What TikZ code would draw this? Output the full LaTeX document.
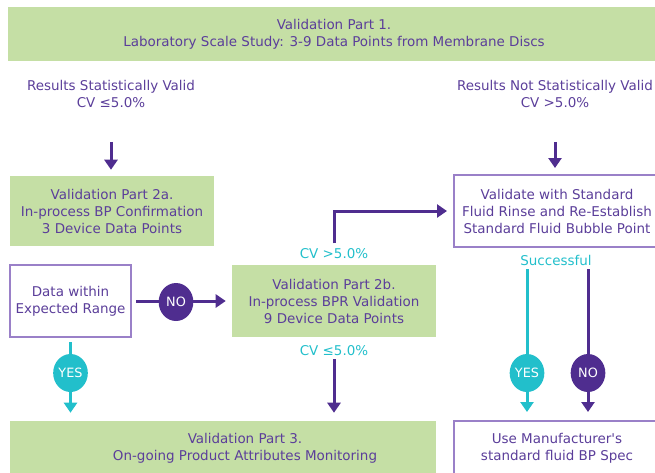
\documentclass[tikz,border=0pt]{standalone}
\usepackage{fontspec}
\setmainfont{DejaVu Sans}
\usetikzlibrary{arrows.meta,shapes.geometric,backgrounds}

\definecolor{valgreen}{HTML}{C5DFA5}
\definecolor{valpurple}{HTML}{4F2D8F}
\definecolor{txtpurple}{HTML}{5B3E9A}
\definecolor{edgepurple}{HTML}{9A80C8}
\definecolor{valcyan}{HTML}{22BFCB}

\begin{document}
\begin{tikzpicture}[x=0.75pt, y=-0.75pt,
  every node/.style={font=\fontsize{10.1}{12.75}\selectfont, text=txtpurple, align=center, inner sep=0pt},
  greenbox/.style={fill=valgreen},
  whitebox/.style={fill=white, draw=edgepurple, line width=1.5pt},
  circ/.style={ellipse, minimum width=26pt, minimum height=28.5pt, text=white, font=\fontsize{9.6}{11}\selectfont},
  flow/.style={draw=valpurple, line width=2.25pt, -{Triangle[width=9.75pt, length=7.5pt]}},
  cyanflow/.style={flow, draw=valcyan}]
  \useasboundingbox (0,0) rectangle (655,472);
  \clip (0,0) rectangle (655,472);

  % Part 1 (top)
  \node[greenbox, minimum width=489pt, minimum height=40.5pt] (p1) at (334,34) {Validation Part 1.\\Laboratory Scale Study: 3-9 Data Points from Membrane Discs};

  % result labels
  \node (res1) at (111,94) {Results Statistically Valid\\CV ≤5.0\%};
  \node (res2) at (555,94) {Results Not Statistically Valid\\CV >5.0\%};

  % Part 2a and rinse box
  \node[greenbox, minimum width=153pt, minimum height=52.5pt] (p2a) at (112,211) {Validation Part 2a.\\In-process BP Confirmation\\3 Device Data Points};
  \node[whitebox, minimum width=154.5pt, minimum height=54pt] (rinse) at (557,211) {Validate with Standard\\Fluid Rinse and Re-Establish\\Standard Fluid Bubble Point};

  % Data range and Part 2b
  \node[whitebox, minimum width=90.75pt, minimum height=54pt] (range) at (70.5,301) {Data within\\Expected Range};
  \node[greenbox, minimum width=153pt, minimum height=54pt] (p2b) at (334,301) {Validation Part 2b.\\In-process BPR Validation\\9 Device Data Points};

  % cyan labels
  \node[text=valcyan] (cvhi) at (334,254) {CV >5.0\%};
  \node[text=valcyan] (cvlo) at (334,351) {CV ≤5.0\%};
  \node[text=valcyan] (succ) at (556,260) {Successful};

  % Part 3 and manufacturer box (bottom, cut off)
  \node[greenbox, minimum width=319.5pt, minimum height=52.5pt] (box3) at (223,456) {};
  \node (p3) at (245,448.5) {Validation Part 3.\\On-going Product Attributes Monitoring};
  \node[whitebox, minimum width=154.5pt, minimum height=41.25pt] (manuf) at (557,448.5) {Use Manufacturer\textquotesingle s\\standard fluid BP Spec};

  % decision circles
  \node[circ, fill=valpurple] (no1) at (176,302) {NO};
  \node[circ, fill=valcyan] (yes1) at (70.5,373) {YES};
  \node[circ, fill=valcyan] (yes2) at (527,373) {YES};
  \node[circ, fill=valpurple] (no2) at (588,373) {NO};

  % connectors
  \begin{scope}[on background layer]
    \draw[flow, shorten <=25.5pt, shorten >=4.5pt] (res1.south) -- (res1.south |- p2a.north);
    \draw[flow, shorten <=25.5pt, shorten >=4.5pt] (res2.south) -- (res2.south |- rinse.north);
    \draw[flow, shorten <=4pt, shorten >=4.5pt] (cvhi.north) |- (rinse.west);
    \draw[flow, shorten <=3pt, shorten >=4.5pt] (range.east) -- (p2b.west);
    \draw[cyanflow, shorten <=3pt, shorten >=6pt] (range.south) -- (range.south |- box3.north);
    \draw[flow, shorten <=2pt, shorten >=6pt] (cvlo.south) -- (cvlo.south |- box3.north);
    \draw[cyanflow, shorten <=3pt, shorten >=6pt] (yes2 |- succ.south) -- (yes2 |- manuf.north);
    \draw[flow, shorten <=3pt, shorten >=6pt] (no2 |- succ.south) -- (no2 |- manuf.north);
  \end{scope}
\end{tikzpicture}
\end{document}
